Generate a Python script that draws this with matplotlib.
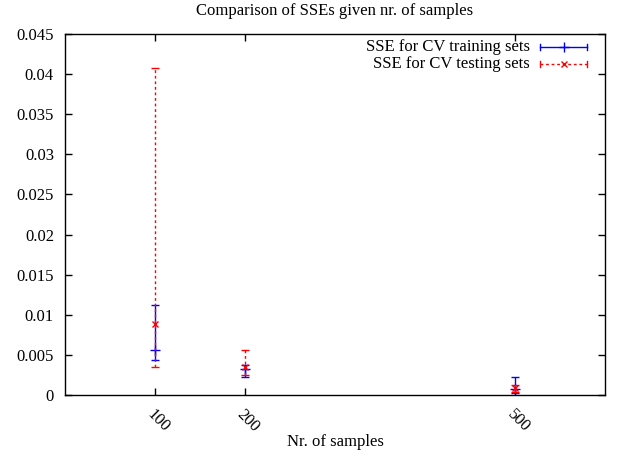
import matplotlib
matplotlib.use("Agg")
import matplotlib.pyplot as plt
import numpy as np

plt.rcParams['font.family'] = ['Liberation Serif', 'DejaVu Serif']

samples = [100, 200, 500]
train_mid = [0.0056, 0.0032, 0.0008]
train_low = [0.0044, 0.0022, 0.0002]
train_high = [0.0112, 0.0037, 0.0022]
test_mid = [0.0088, 0.0035, 0.0009]
test_low = [0.0035, 0.0025, 0.0004]
test_high = [0.0407, 0.0056, 0.0012]
xticks = [100, 200, 500]
yticks = [0, 0.005, 0.01, 0.015, 0.02, 0.025, 0.03, 0.035, 0.04, 0.045]
ytick_labels = ['0', '0.005', '0.01', '0.015', '0.02', '0.025', '0.03', '0.035', '0.04', '0.045']

FS = 12
fig = plt.figure(figsize=(6.18, 4.57), dpi=100)
ax = fig.add_axes([65/618, 62/457, 540/618, 361/457])

tm = np.array(train_mid)
ax.errorbar(samples, tm, yerr=[tm - np.array(train_low), np.array(train_high) - tm],
            fmt='+', color='#0000ff', ecolor='#0000ff', elinewidth=1, capsize=3,
            markersize=7, lw=1, zorder=3)
te = np.array(test_mid)
eb = ax.errorbar(samples, te, yerr=[te - np.array(test_low), np.array(test_high) - te],
                 fmt='x', color='#ff0000', ecolor='#ff0000', elinewidth=1, capsize=3,
                 markersize=5, lw=1, zorder=4)
for lc in eb[2]:
    lc.set_linestyle((0, (2, 2)))

ax.set_xlim(0, 600)
ax.set_ylim(0, 0.045)
ax.set_xticks(xticks)
ax.set_xticklabels([str(v) for v in xticks], rotation=-45, ha='left', va='top',
                   rotation_mode='anchor', fontsize=FS)
ax.set_yticks(yticks)
ax.set_yticklabels(ytick_labels, fontsize=FS)
ax.tick_params(axis='y', direction='in', left=True, right=True, length=5, width=1, pad=8)
ax.tick_params(axis='x', direction='in', top=True, bottom=True, length=5, width=1, pad=8)
for s in ax.spines.values():
    s.set_linewidth(1)

fig.text(335/618, 1 - 442/457, 'Nr. of samples', ha='center', va='center', fontsize=FS)
fig.text(335/618, 1 - 11/457, 'Comparison of SSEs given nr. of samples', ha='center', va='center', fontsize=FS)

# gnuplot-style key drawn in axes coordinates
tr = ax.transAxes
def ax_x(px):
    return (px - 65) / 540
def ax_y(py):
    return (395 - py) / 361

y1, y2 = ax_y(47), ax_y(64)
ax.text(ax_x(530), y1, 'SSE for CV training sets', transform=tr, ha='right', va='center', fontsize=FS)
ax.text(ax_x(530), y2, 'SSE for CV testing sets', transform=tr, ha='right', va='center', fontsize=FS)
x0, x1 = ax_x(540), ax_x(587)
ax.plot([x0, x1], [y1, y1], color='#0000ff', lw=1, transform=tr, clip_on=False)
ax.plot([x0, x0], [y1 - 0.008, y1 + 0.008], color='#0000ff', lw=1, transform=tr)
ax.plot([x1, x1], [y1 - 0.008, y1 + 0.008], color='#0000ff', lw=1, transform=tr)
ax.plot([(x0 + x1) / 2], [y1], marker='+', color='#0000ff', ms=7, transform=tr)
ax.plot([x0, x1], [y2, y2], color='#ff0000', lw=1, ls=(0, (2, 2)), transform=tr)
ax.plot([x0, x0], [y2 - 0.008, y2 + 0.008], color='#ff0000', lw=1, transform=tr)
ax.plot([x1, x1], [y2 - 0.008, y2 + 0.008], color='#ff0000', lw=1, transform=tr)
ax.plot([(x0 + x1) / 2], [y2], marker='x', color='#ff0000', ms=5, transform=tr)

fig.savefig('out.png', dpi=100)
